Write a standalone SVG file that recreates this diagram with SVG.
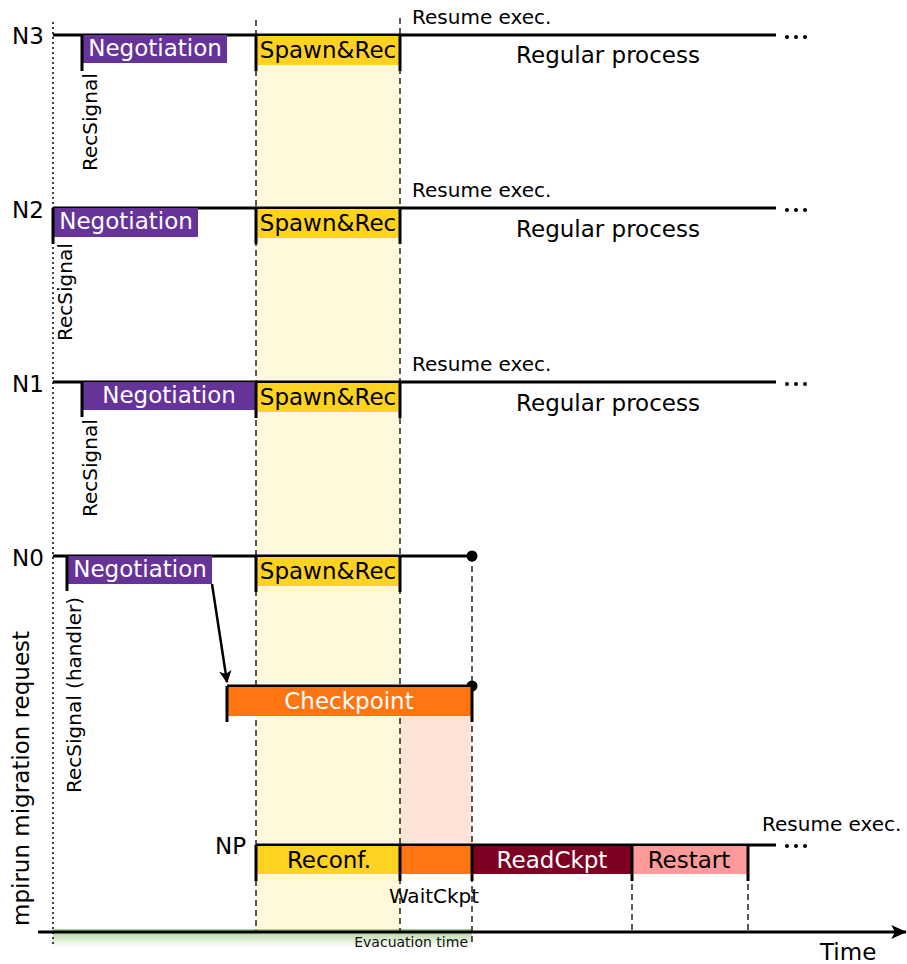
<svg xmlns="http://www.w3.org/2000/svg" width="907" height="964" viewBox="0 0 907 964">
  <style>
    text { font-family: "DejaVu Sans", "Liberation Sans", sans-serif; }
    .lane { stroke: #000; stroke-width: 3; fill: none; }
    .tick { stroke: #000; stroke-width: 3; }
    .dash { stroke: #000; stroke-width: 1.3; stroke-dasharray: 6 4; fill: none; }
    .dot { stroke: #000; stroke-width: 1.5; stroke-dasharray: 2 3; fill: none; }
    .neg { fill: #663399; }
    .spawn { fill: #fed220; }
    .ckpt { fill: #ff7512; }
    .read { fill: #7d0022; }
    .rest { fill: #ff9a9a; }
    .wt { fill: #fff; font-size: 23px; text-anchor: middle; }
    .bk { fill: #000; font-size: 23px; text-anchor: middle; }
    .lbl { fill: #000; font-size: 23px; }
    .small { fill: #000; font-size: 20px; }
    .ell { fill: #000; }
  </style>
  <defs>
    <marker id="arrow" viewBox="0 0 10 10" refX="9" refY="5" markerWidth="5" markerHeight="5" orient="auto">
      <path d="M0,0 L10,5 L0,10 L2.5,5 z" fill="#000"/>
    </marker>
    <marker id="bigarrow" viewBox="0 0 10 10" refX="9.5" refY="5" markerWidth="5.2" markerHeight="5.2" orient="auto">
      <path d="M0,0.5 L10,5 L0,9.5 L2.5,5 z" fill="#000"/>
    </marker>
    <linearGradient id="evac" x1="0" y1="0" x2="0" y2="1">
      <stop offset="0" stop-color="#a9d08e"/>
      <stop offset="1" stop-color="#ffffff"/>
    </linearGradient>
    <g id="dots">
      <circle cx="0" cy="0" r="2"/>
      <circle cx="9" cy="0" r="2"/>
      <circle cx="18" cy="0" r="2"/>
    </g>
  </defs>

  <!-- background phases -->
  <g id="phases">
    <rect x="256" y="36" width="144" height="896" fill="#fff8da"/>
    <rect x="400" y="716" width="72" height="129" fill="#fde4d6"/>
    <rect x="53" y="929" width="419" height="18" fill="url(#evac)"/>
  </g>

  <!-- guide lines -->
  <g id="guides">
    <line class="dot" x1="53" y1="22" x2="53" y2="946"/>
    <line class="dash" x1="256" y1="20" x2="256" y2="932"/>
    <line class="dash" x1="400" y1="18" x2="400" y2="932"/>
    <line class="dash" x1="472" y1="556" x2="472" y2="946"/>
    <line class="dash" x1="632" y1="874" x2="632" y2="932"/>
    <line class="dash" x1="748" y1="874" x2="748" y2="932"/>
  </g>

  <!-- node N3 -->
  <g id="n3">
    <text class="lbl" x="12" y="44">N3</text>
    <line class="lane" x1="53" y1="35" x2="776" y2="35"/>
    <use href="#dots" x="787" y="37" class="ell"/>
    <rect class="neg" x="82" y="35" width="145" height="28"/>
    <text class="wt" x="155" y="56">Negotiation</text>
    <line class="tick" x1="82" y1="35" x2="82" y2="71"/>
    <text class="small" transform="translate(97,171) rotate(-90)">RecSignal</text>
    <rect class="spawn" x="256" y="36" width="144" height="29"/>
    <text class="bk" x="328" y="58">Spawn&amp;Rec</text>
    <line class="tick" x1="256" y1="35" x2="256" y2="71"/>
    <line class="tick" x1="400" y1="35" x2="400" y2="71"/>
    <text class="small" x="412" y="24">Resume exec.</text>
    <text class="lbl" x="608" y="63" text-anchor="middle">Regular process</text>
  </g>

  <!-- node N2 -->
  <g id="n2">
    <text class="lbl" x="12" y="218">N2</text>
    <line class="lane" x1="53" y1="208" x2="776" y2="208"/>
    <use href="#dots" x="787" y="210" class="ell"/>
    <rect class="neg" x="53" y="208" width="145" height="29"/>
    <text class="wt" x="126" y="229">Negotiation</text>
    <line class="tick" x1="53" y1="208" x2="53" y2="244"/>
    <text class="small" transform="translate(72,341) rotate(-90)">RecSignal</text>
    <rect class="spawn" x="256" y="209" width="144" height="29"/>
    <text class="bk" x="328" y="231">Spawn&amp;Rec</text>
    <line class="tick" x1="256" y1="208" x2="256" y2="244"/>
    <line class="tick" x1="400" y1="208" x2="400" y2="244"/>
    <text class="small" x="412" y="197">Resume exec.</text>
    <text class="lbl" x="608" y="237" text-anchor="middle">Regular process</text>
  </g>

  <!-- node N1 -->
  <g id="n1">
    <text class="lbl" x="12" y="392">N1</text>
    <line class="lane" x1="53" y1="382" x2="776" y2="382"/>
    <use href="#dots" x="787" y="384" class="ell"/>
    <rect class="neg" x="82" y="382" width="174" height="28"/>
    <text class="wt" x="169" y="403">Negotiation</text>
    <line class="tick" x1="82" y1="382" x2="82" y2="417"/>
    <text class="small" transform="translate(97,517) rotate(-90)">RecSignal</text>
    <rect class="spawn" x="256" y="383" width="144" height="29"/>
    <text class="bk" x="328" y="405">Spawn&amp;Rec</text>
    <line class="tick" x1="256" y1="382" x2="256" y2="418"/>
    <line class="tick" x1="400" y1="382" x2="400" y2="418"/>
    <text class="small" x="412" y="371">Resume exec.</text>
    <text class="lbl" x="608" y="411" text-anchor="middle">Regular process</text>
  </g>

  <!-- node N0 -->
  <g id="n0">
    <text class="lbl" x="12" y="566">N0</text>
    <line class="lane" x1="53" y1="556" x2="472" y2="556"/>
    <circle cx="472" cy="556" r="5.5" fill="#000"/>
    <rect class="neg" x="67" y="556" width="145" height="28"/>
    <text class="wt" x="140" y="577">Negotiation</text>
    <line class="tick" x1="67" y1="556" x2="67" y2="591"/>
    <text class="small" transform="translate(81,793) rotate(-90)">RecSignal (handler)</text>
    <rect class="spawn" x="256" y="557" width="144" height="29"/>
    <text class="bk" x="328" y="579">Spawn&amp;Rec</text>
    <line class="tick" x1="256" y1="556" x2="256" y2="592"/>
    <line class="tick" x1="400" y1="556" x2="400" y2="592"/>
  </g>

  <!-- checkpoint phase -->
  <g id="checkpoint">
    <line class="lane" x1="227" y1="686" x2="472" y2="686"/>
    <circle cx="472" cy="686" r="5.5" fill="#000"/>
    <rect class="ckpt" x="227" y="687" width="245" height="29"/>
    <text class="wt" x="349" y="709">Checkpoint</text>
    <line class="tick" x1="227" y1="686" x2="227" y2="722"/>
    <line class="tick" x1="472" y1="686" x2="472" y2="722"/>
  </g>

  <!-- new process NP -->
  <g id="np">
    <text class="lbl" x="246" y="854" text-anchor="end">NP</text>
    <line class="lane" x1="256" y1="845" x2="776" y2="845"/>
    <use href="#dots" x="787" y="846" class="ell"/>
    <rect class="spawn" x="256" y="846" width="144" height="28"/>
    <text class="bk" x="329" y="868">Reconf.</text>
    <rect class="ckpt" x="400" y="846" width="72" height="28"/>
    <rect class="read" x="472" y="846" width="160" height="28"/>
    <text class="wt" x="552" y="868">ReadCkpt</text>
    <rect class="rest" x="632" y="846" width="116" height="28"/>
    <text class="bk" x="689" y="868">Restart</text>
    <line class="tick" x1="256" y1="845" x2="256" y2="881"/>
    <line class="tick" x1="400" y1="845" x2="400" y2="881"/>
    <line class="tick" x1="472" y1="845" x2="472" y2="881"/>
    <line class="tick" x1="632" y1="845" x2="632" y2="881"/>
    <line class="tick" x1="748" y1="845" x2="748" y2="881"/>
    <text class="small" x="434" y="903" text-anchor="middle">WaitCkpt</text>
    <text class="small" x="762" y="831">Resume exec.</text>
  </g>

  <!-- connectors -->
  <g id="connectors">
    <line x1="212" y1="584" x2="227" y2="682" stroke="#000" stroke-width="2.5" marker-end="url(#arrow)"/>
  </g>

  <!-- time axis -->
  <g id="axis">
    <line x1="38" y1="932" x2="906" y2="932" stroke="#000" stroke-width="3" marker-end="url(#bigarrow)"/>
    <text class="lbl" x="820" y="960">Time</text>
    <text x="468" y="947" text-anchor="end" font-size="14" fill="#111">Evacuation time</text>
    <text class="lbl" font-size="25" transform="translate(29,926) rotate(-90)">mpirun migration request</text>
  </g>
</svg>
